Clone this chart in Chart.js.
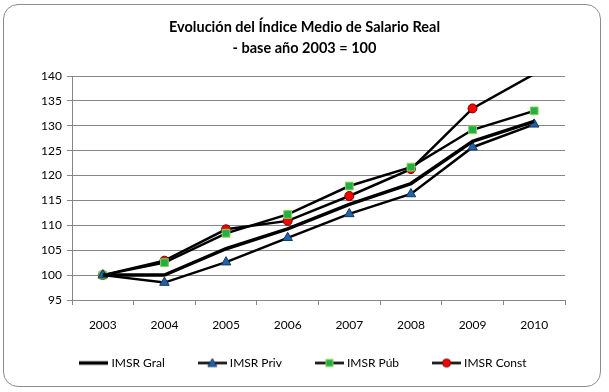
<!DOCTYPE html>
<html>
<head>
<meta charset="utf-8">
<script src="https://cdn.jsdelivr.net/npm/chart.js@4"></script>
<style>
  html, body { margin: 0; padding: 0; background: #fff; }
  #wrap { position: relative; width: 609px; height: 392px; }
  #frame {
    position: absolute; left: 3px; top: 4px; width: 596px; height: 381px;
    border: 1.5px solid #8c8c8c; border-radius: 15px; pointer-events: none;
  }
  canvas { position: absolute; left: 0; top: 0; }
</style>
</head>
<body>
<div id="wrap">
  <canvas id="chart" width="609" height="392"></canvas>
  <div id="frame"></div>
</div>
<script>
// datos
const years = ['2003', '2004', '2005', '2006', '2007', '2008', '2009', '2010'];
const imsrGral = [100, 100, 105.3, 109.3, 114.2, 118.4, 126.9, 130.9];
const imsrPriv = [100, 98.5, 102.6, 107.5, 112.3, 116.3, 125.7, 130.3];
const imsrPub = [100, 102.5, 108.4, 112.2, 117.9, 121.7, 129.2, 133.0];
const imsrConst = [100, 102.9, 109.2, 110.9, 115.9, 121.3, 133.5, 140.4];
const yTicks = { min: 95, max: 140, step: 5 };

const FONT = 'Lato, "Liberation Sans", sans-serif';

// muestra de leyenda: línea negra con el marcador en el centro
function legendSample(kind, lineW) {
    const c = document.createElement('canvas');
    c.width = 29; c.height = 13;
    const ctx = c.getContext('2d');
    const cx = 14.5;
    ctx.strokeStyle = '#000';
    ctx.lineWidth = lineW;
    ctx.beginPath(); ctx.moveTo(0, 6.5); ctx.lineTo(29, 6.5); ctx.stroke();
    ctx.lineWidth = 1;
    if (kind === 'tri') {
        ctx.fillStyle = '#1f64aa'; ctx.strokeStyle = '#17375e';
        ctx.beginPath(); ctx.moveTo(cx, 2); ctx.lineTo(cx + 4.5, 10); ctx.lineTo(cx - 4.5, 10); ctx.closePath();
        ctx.fill(); ctx.stroke();
    } else if (kind === 'sq') {
        ctx.fillStyle = '#1fb04a'; ctx.strokeStyle = '#92d050';
        ctx.fillRect(cx - 3.5, 3, 7, 7); ctx.strokeRect(cx - 3.5, 3, 7, 7);
    } else if (kind === 'dot') {
        ctx.fillStyle = '#ff0000'; ctx.strokeStyle = '#6e0000';
        ctx.beginPath(); ctx.arc(cx, 6.5, 4, 0, Math.PI * 2); ctx.fill(); ctx.stroke();
    }
    return c;
}

const samples = [legendSample('none', 3.5), legendSample('tri', 2.5), legendSample('sq', 2.5), legendSample('dot', 2.5)];

// la leyenda usa un padding grande para separar elementos:
// se fija su alto a mano y se sube un poco después del layout
const legendBox = {
    id: 'legendBox',
    beforeInit(chart) {
        const fit = chart.legend.fit;
        chart.legend.fit = function () {
            fit.call(this);
            this.height = 55;
        };
    },
    afterLayout(chart) {
        chart.legend.top -= 16;
        chart.legend.bottom -= 16;
    }
};

const ctx = document.getElementById('chart');
new Chart(ctx, {
    type: 'line',
    data: {
        labels: years,
        datasets: [
            { label: 'IMSR Gral', data: imsrGral, borderColor: '#000', borderWidth: 3.5, pointRadius: 0, clip: 0 },
            { label: 'IMSR Priv', data: imsrPriv, borderColor: '#000', borderWidth: 2.5, pointStyle: 'triangle',
              pointRadius: 5.5, pointBackgroundColor: '#1f64aa', pointBorderColor: '#17375e', pointBorderWidth: 1, clip: 0 },
            { label: 'IMSR Púb', data: imsrPub, borderColor: '#000', borderWidth: 2.5, pointStyle: 'rect',
              pointRadius: 5.5, pointBackgroundColor: '#1fb04a', pointBorderColor: '#92d050', pointBorderWidth: 1, clip: 0 },
            { label: 'IMSR Const', data: imsrConst, borderColor: '#000', borderWidth: 2.5, pointStyle: 'circle',
              pointRadius: [4.5, 4.5, 4.5, 4.5, 4.5, 4.5, 4.5, 0], pointBackgroundColor: '#ff0000',
              pointBorderColor: '#6e0000', pointBorderWidth: 1, clip: 0 }
        ]
    },
    plugins: [legendBox],
    options: {
        responsive: false,
        animation: false,
        layout: { padding: 0 },
        elements: { line: { tension: 0 } },
        plugins: {
            title: {
                display: true,
                text: ['Evolución del Índice Medio de Salario Real', '- base año 2003 = 100'],
                color: '#000',
                font: { family: FONT, size: 14.5, weight: 'bold', lineHeight: 1.45 },
                padding: { top: 17, bottom: 17 }
            },
            legend: {
                position: 'bottom',
                labels: {
                    usePointStyle: true,
                    pointStyleWidth: 23,
                    color: '#000',
                    padding: 36,
                    font: { family: FONT, size: 12 },
                    generateLabels: (chart) => chart.data.datasets.map((ds, i) => ({
                        text: ds.label,
                        pointStyle: samples[i],
                        datasetIndex: i,
                        fontColor: '#000',
                        lineWidth: 0
                    }))
                }
            },
            tooltip: { enabled: false }
        },
        scales: {
            x: {
                offset: true,
                afterFit: (scale) => { scale.height = 37; },
                grid: { offset: true, drawOnChartArea: false, tickLength: 5, color: '#868686' },
                border: { color: '#868686' },
                ticks: { color: '#000', padding: 13, font: { family: FONT, size: 12 } }
            },
            y: {
                min: yTicks.min,
                max: yTicks.max,
                afterFit: (scale) => { scale.width = 72; },
                grid: { color: '#868686', tickLength: 5 },
                border: { color: '#868686' },
                ticks: { stepSize: yTicks.step, color: '#000', padding: 5, font: { family: FONT, size: 12 } }
            },
            // eje vacío a la derecha: sólo reserva el margen derecho
            yRight: {
                position: 'right',
                afterFit: (scale) => { scale.width = 44; },
                grid: { display: false },
                border: { display: false },
                ticks: { display: false }
            }
        }
    }
});
</script>
</body>
</html>
